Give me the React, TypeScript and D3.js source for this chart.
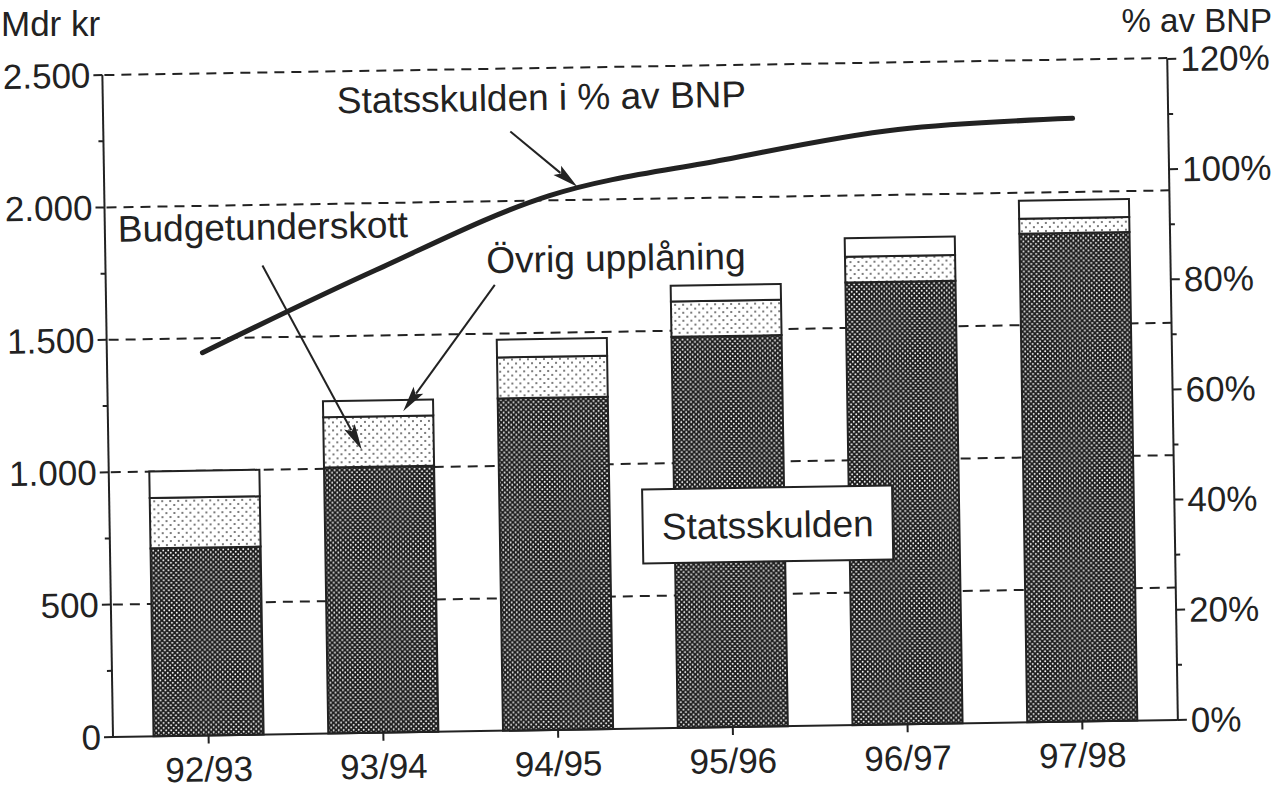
import React from 'react';
import * as d3 from 'd3';

// ---------- data ----------
const categories = ['92/93', '93/94', '94/95', '95/96', '96/97', '97/98'];
const statsskulden = [710, 1005, 1255, 1477, 1672, 1845];
const budgetunderskott = [190, 190, 155, 134, 97, 57];
const ovrigUpplaning = [100, 60, 67, 59, 70, 68];
const skuldProcentBNP = [69.5, 84, 97, 103, 108, 109.5];
const leftTicks = [0, 500, 1000, 1500, 2000, 2500];
const leftTickLabels = ['0', '500', '1.000', '1.500', '2.000', '2.500'];
const rightTicks = [0, 20, 40, 60, 80, 100, 120];
const rightTickLabels = ['0%', '20%', '40%', '60%', '80%', '100%', '120%'];

const W = 1279;
const H = 790;
const X0 = 113;
const X1 = 1178;
const Y0 = 737;
const YTOP = 75;
const INK = '#222222';
const FONT = '"Liberation Sans", Arial, Helvetica, sans-serif';

function arrow(x1: number, y1: number, x2: number, y2: number, len = 26, half = 6) {
  const dx = x2 - x1, dy = y2 - y1;
  const L = Math.hypot(dx, dy);
  const ux = dx / L, uy = dy / L;
  const bx = x2 - ux * len, by = y2 - uy * len;
  const px = -uy, py = ux;
  return {
    shaft: { x1, y1, x2: bx + ux * 4, y2: by + uy * 4 },
    head: `${x2},${y2} ${bx + px * half},${by + py * half} ${bx + ux * 5},${by + uy * 5} ${bx - px * half},${by - py * half}`,
  };
}

export default function App() {
  const x = d3.scaleBand<string>().domain(categories).range([X0, X1]).paddingInner(0.37).paddingOuter(0.232);
  const y = d3.scaleLinear().domain([0, 2500]).range([Y0, YTOP]);
  const y2 = d3.scaleLinear().domain([0, 120]).range([Y0, YTOP + 1]);
  const cx = (i: number) => (x(categories[i]) as number) + x.bandwidth() / 2;

  const rows = categories.map((c, i) => ({
    cat: c,
    statsskulden: statsskulden[i],
    budget: budgetunderskott[i],
    ovrig: ovrigUpplaning[i],
  }));
  const keys = ['statsskulden', 'budget', 'ovrig'];
  const fills: Record<string, string> = {
    statsskulden: 'url(#darkPat)',
    budget: 'url(#dotPat)',
    ovrig: '#ffffff',
  };
  const stacked = d3.stack<any>().keys(keys)(rows);

  const lineGen = d3
    .line<number>()
    .x((_, i) => cx(i))
    .y((d) => y2(d))
    .curve(d3.curveMonotoneX);

  const leftMinor = d3.range(250, 2500, 500);
  const rightMinor = d3.range(10, 120, 20);

  // annotation arrows (anchored to scales)
  const tipLineX = cx(2) + 28;
  const tipLineV = skuldProcentBNP[2] + ((skuldProcentBNP[3] - skuldProcentBNP[2]) * 28) / x.step();
  const aLine = arrow(520, 138, tipLineX, y2(tipLineV) - 3);
  const aBudget = arrow(270, 268, cx(1) - 17, y(1070));
  const aOvrig = arrow(502, 291, cx(1) + 25, y(1212));

  return (
    <svg
      width={W}
      height={H}
      viewBox={`0 0 ${W} ${H}`}
      style={{ position: 'absolute', left: 0, top: 0, background: '#fff', display: 'block' }}
      fontFamily={FONT}
    >
      <defs>
        <pattern id="darkPat" patternUnits="userSpaceOnUse" width="5" height="5">
          <rect width="5" height="5" fill="#1c1c1c" />
          <circle cx="1.25" cy="1.25" r="0.95" fill="#ffffff" />
          <circle cx="3.75" cy="3.75" r="0.95" fill="#ffffff" />
        </pattern>
        <pattern id="dotPat" patternUnits="userSpaceOnUse" width="8" height="8">
          <rect width="8" height="8" fill="#ffffff" />
          <circle cx="2" cy="2" r="0.95" fill="#444" />
          <circle cx="6" cy="6" r="0.95" fill="#444" />
        </pattern>
      </defs>
      <rect width={W} height={H} fill="#fff" />

      {/* axis titles (outside the slightly rotated plot group) */}
      <text x={1} y={36} fontSize={35} fill={INK}>Mdr kr</text>
      <text x={1272} y={32} fontSize={33} textAnchor="end" fill={INK}>% av BNP</text>

      <g transform={`rotate(-0.92 ${X0} ${Y0})`}>
        {/* gridlines */}
        {leftTicks.filter((t) => t > 0).map((t) => (
          <line key={'g' + t} x1={X0 + 2} x2={X1} y1={y(t)} y2={y(t)} stroke={INK} strokeWidth={2} strokeDasharray="10 7" />
        ))}

        {/* bars */}
        {stacked.map((layer) => (
          <g key={layer.key}>
            {layer.map((d, i) => (
              <rect
                key={i}
                x={x(categories[i])}
                width={x.bandwidth()}
                y={y(d[1])}
                height={y(d[0]) - y(d[1])}
                fill={fills[layer.key]}
                stroke={INK}
                strokeWidth={2}
              />
            ))}
          </g>
        ))}

        {/* left axis */}
        <line x1={X0} x2={X0} y1={Y0} y2={YTOP} stroke={INK} strokeWidth={2} />
        {leftTicks.map((t, i) => (
          <g key={'lt' + t}>
            <line x1={X0 - 9} x2={X0} y1={y(t)} y2={y(t)} stroke={INK} strokeWidth={2} />
            <text x={X0 - 12} y={y(t)} dy="0.35em" textAnchor="end" fontSize={35} fill={INK}>
              {leftTickLabels[i]}
            </text>
          </g>
        ))}
        {leftMinor.map((t) => (
          <line key={'lm' + t} x1={X0 - 5} x2={X0} y1={y(t)} y2={y(t)} stroke={INK} strokeWidth={2} />
        ))}

        {/* right axis */}
        <line x1={X1} x2={X1} y1={Y0} y2={y2(120)} stroke={INK} strokeWidth={2} />
        {rightTicks.map((t, i) => (
          <g key={'rt' + t}>
            <line x1={X1} x2={X1 + 9} y1={y2(t)} y2={y2(t)} stroke={INK} strokeWidth={2} />
            <text x={X1 + 13} y={y2(t)} dy="0.35em" textAnchor="start" fontSize={35} fill={INK}>
              {rightTickLabels[i]}
            </text>
          </g>
        ))}
        {rightMinor.map((t) => (
          <line key={'rm' + t} x1={X1} x2={X1 + 5} y1={y2(t)} y2={y2(t)} stroke={INK} strokeWidth={2} />
        ))}

        {/* x axis */}
        <line x1={X0} x2={X1} y1={Y0} y2={Y0} stroke={INK} strokeWidth={2} />
        {categories.map((c, i) => (
          <g key={'xc' + c}>
            <line x1={cx(i)} x2={cx(i)} y1={Y0} y2={Y0 + 8} stroke={INK} strokeWidth={2} />
            <text x={cx(i)} y={Y0 + 46} textAnchor="middle" fontSize={35} fill={INK}>
              {c}
            </text>
          </g>
        ))}

        {/* line */}
        <path d={lineGen(skuldProcentBNP) || ''} fill="none" stroke={INK} strokeWidth={5} strokeLinecap="round" strokeLinejoin="round" />

        {/* annotations */}
        <text x={347} y={117} fontSize={37} fill={INK}>Statsskulden i % av BNP</text>
        <text x={126} y={242} fontSize={37} fill={INK}>Budgetunderskott</text>
        <text x={494} y={279} fontSize={37} fill={INK}>Övrig upplåning</text>
        {[aLine, aBudget, aOvrig].map((a, k) => (
          <g key={'ar' + k}>
            <line {...a.shaft} stroke={INK} strokeWidth={2} />
            <polygon points={a.head} fill={INK} />
          </g>
        ))}

        {/* Statsskulden box */}
        <rect x={771 - 125} y={535 - 37} width={250} height={74} fill="#fff" stroke={INK} strokeWidth={2} />
        <text x={771} y={535} dy="0.36em" textAnchor="middle" fontSize={37} fill={INK}>Statsskulden</text>
      </g>
    </svg>
  );
}
